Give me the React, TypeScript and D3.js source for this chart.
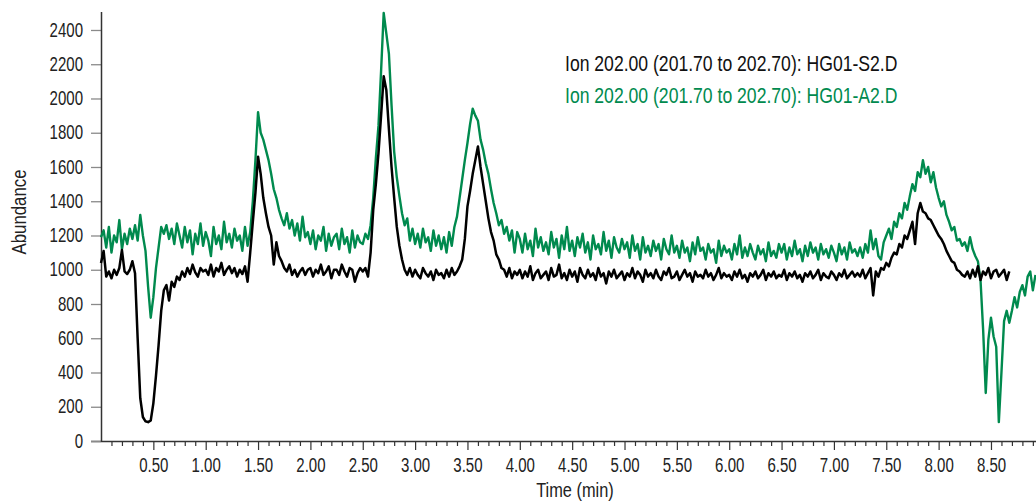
import React, { useRef, useEffect } from 'react';
import * as d3 from 'd3';

// sampling interval of both traces (min)
const STEP = 0.025;

// Ion 202.00 (201.70 to 202.70): HG01-S2.D, one value every STEP from 0 min
const blackValues = [
  1040, 1110, 960, 990, 950, 1000, 970, 1010, 1115, 990,
  975, 1000, 1050, 980, 600, 250, 140, 115, 110, 120,
  220, 380, 560, 760, 880, 910, 820, 930, 900, 960,
  940, 990, 960, 1010, 975, 1030, 985, 960, 1010, 990,
  1000, 970, 1030, 960, 1010, 990, 1040, 970, 1000, 1020,
  980, 1010, 960, 1000, 975, 1020, 930, 1100, 1280, 1450,
  1660, 1560, 1420, 1330, 1250, 1200, 1030, 1160, 1080, 1050,
  1010, 990, 1030, 970, 1000, 960, 990, 1010, 970, 1000,
  1010, 960, 1000, 980, 1030, 970, 990, 1020, 950, 1000,
  1000, 970, 1030, 990, 960, 1010, 1000, 930, 980, 1010,
  990, 1010, 960, 1100, 1350, 1500, 1680, 1900, 2130, 2050,
  1820, 1600, 1420, 1250, 1140, 1060, 1000, 970, 1010, 960,
  1000, 970, 950, 1010, 980, 960, 990, 940, 1000, 970,
  980, 950, 1000, 960, 1010, 970, 990, 1020, 1060, 1180,
  1370, 1460, 1560, 1640, 1720, 1600, 1500, 1400, 1300, 1220,
  1170, 1090, 1060, 1010, 1000, 960, 1010, 950, 990, 970,
  1000, 950, 990, 960, 1020, 940, 980, 1000, 950, 970,
  990, 940, 1010, 960, 970, 1030, 950, 980, 940, 1000,
  960, 990, 930, 1010, 970, 950, 1000, 960, 980, 940,
  1010, 960, 980, 920, 990, 960, 1000, 950, 970, 990,
  940, 980, 960, 1010, 950, 990, 970, 930, 1000, 960,
  980, 950, 1000, 960, 940, 990, 970, 1010, 950, 960,
  990, 940, 970, 1000, 960, 980, 930, 990, 960, 970,
  950, 1000, 960, 980, 940, 970, 1010, 950, 980, 960,
  970, 940, 990, 960, 1000, 950, 970, 930, 980, 960,
  990, 950, 970, 1000, 940, 980, 960, 990, 950, 970,
  960, 1000, 940, 980, 960, 990, 950, 970, 930, 980,
  960, 990, 950, 970, 1000, 940, 980, 960, 950, 990,
  970, 940, 980, 960, 1000, 950, 970, 990, 960, 980,
  960, 1000, 950, 980, 1010, 850, 990, 960, 1010, 1000,
  1040, 1020, 1070, 1100, 1090, 1150, 1130, 1200, 1180, 1230,
  1280, 1150, 1330, 1390, 1340, 1330, 1300, 1290, 1260, 1230,
  1200, 1180, 1150, 1110, 1080, 1050, 1040, 1000, 990, 970,
  960, 990, 950, 1000, 960, 1020, 940, 990, 970, 1010,
  950, 990, 1000, 960, 980, 1000, 940, 990,
];

// Ion 202.00 (201.70 to 202.70): HG01-A2.D
const greenValues = [
  1190, 1230, 1130, 1250, 1100, 1200, 1160, 1290, 1120, 1210,
  1150, 1240, 1180, 1260, 1170, 1320, 1200, 1110, 900, 720,
  840, 1010, 1130, 1250, 1210, 1260, 1180, 1240, 1150, 1270,
  1200, 1130, 1250, 1160, 1230, 1090, 1210, 1150, 1270, 1140,
  1220, 1170, 1080, 1250, 1150, 1200, 1120, 1280, 1160, 1210,
  1130, 1240, 1170, 1200, 1110, 1250, 1140, 1220, 1400, 1640,
  1920, 1800, 1760, 1700, 1640, 1560, 1470, 1420, 1350, 1300,
  1260, 1330, 1240, 1290, 1200, 1270, 1170, 1310, 1190, 1220,
  1150, 1230, 1120, 1200, 1170, 1250, 1110, 1210, 1140, 1190,
  1210, 1120, 1240, 1150, 1190, 1100, 1230, 1130, 1200, 1160,
  1150, 1210, 1180, 1260, 1420, 1650, 1840, 2160, 2500, 2380,
  2260, 1960, 1690, 1540, 1430, 1330, 1260, 1300, 1170, 1240,
  1150, 1210, 1130, 1240, 1160, 1190, 1110, 1230, 1140, 1200,
  1120, 1190, 1100, 1220, 1140, 1250, 1310, 1420, 1530, 1640,
  1740, 1850, 1940, 1900, 1870, 1760, 1700, 1620, 1560, 1470,
  1390, 1330, 1260, 1290, 1210, 1250, 1170, 1230, 1100, 1220,
  1180, 1100, 1210, 1120, 1170, 1080, 1240, 1130, 1190, 1110,
  1160, 1090, 1220, 1130, 1180, 1070, 1200, 1120, 1250, 1110,
  1170, 1080, 1190, 1130, 1210, 1100, 1160, 1060, 1200, 1120,
  1150, 1090, 1220, 1110, 1170, 1070, 1190, 1130, 1100, 1180,
  1120, 1160, 1070, 1200, 1110, 1150, 1060, 1190, 1100, 1140,
  1080, 1170, 1110, 1150, 1060, 1180, 1120, 1090, 1200, 1100,
  1140, 1070, 1170, 1100, 1130, 1050, 1160, 1090, 1190, 1110,
  1130, 1060, 1150, 1100, 1120, 1040, 1170, 1080, 1140, 1100,
  1120, 1060, 1150, 1090, 1200, 1070, 1130, 1080, 1150, 1100,
  1060, 1140, 1090, 1120, 1050, 1160, 1080, 1110, 1070, 1150,
  1100, 1150, 1060, 1130, 1080, 1170, 1090, 1120, 1050, 1140,
  1080, 1160, 1100, 1130, 1060, 1150, 1090, 1120, 1070, 1140,
  1100, 1050, 1150, 1090, 1130, 1060, 1160, 1100, 1120, 1080,
  1130, 1070, 1150, 1100, 1230, 1120, 1180, 1080, 1060, 1160,
  1200, 1240, 1180, 1280, 1250, 1330, 1300, 1390, 1350, 1430,
  1500, 1460, 1570, 1540, 1640, 1560, 1600, 1510, 1570, 1480,
  1420, 1370, 1400, 1320, 1280, 1230, 1250, 1170, 1180, 1140,
  1160, 1110, 1190, 1120, 1080, 1050, 940, 650, 280, 590,
  720, 610, 550, 110, 400, 700, 760, 690, 760, 840,
  780, 870, 910, 850, 960, 990, 880, 970,
];

const yTicks = [0, 200, 400, 600, 800, 1000, 1200, 1400, 1600, 1800, 2000, 2200, 2400];
const xMajorTicks = [0.5, 1, 1.5, 2, 2.5, 3, 3.5, 4, 4.5, 5, 5.5, 6, 6.5, 7, 7.5, 8, 8.5];
const legendLabels = [
  'Ion 202.00 (201.70 to 202.70): HG01-S2.D',
  'Ion 202.00 (201.70 to 202.70): HG01-A2.D',
];

const BLACK = '#000000';
const GREEN = '#008a4e';
const FONT = "'Liberation Sans', Arial, sans-serif";

const toPoints = (values: number[]) => values.map((v, i) => ({ t: i * STEP, v }));

// squeeze text horizontally to mimic the condensed face of the original
const condense = (sel: any, s: number) =>
  sel.each(function (this: SVGTextElement) {
    const t = d3.select(this);
    const x = +t.attr('x') || 0;
    const prev = t.attr('transform') || '';
    t.attr('x', x / s).attr('transform', `${prev} scale(${s},1)`);
  });

const App = () => {
  const ref = useRef<SVGSVGElement>(null);
  const width = 1036;
  const height = 502;

  useEffect(() => {
    if (!ref.current) return;
    const svg = d3.select(ref.current);
    svg.selectAll('*').remove();

    const x = d3.scaleLinear().domain([0, 8.93]).range([101, 1036]);
    const y = d3.scaleLinear().domain([0, 2505]).range([441, 12]);

    // x axis: minor ticks every 0.1 min, labelled majors every 0.5
    const minor = d3.range(1, 90).map(i => i / 10).filter(t => Math.round(t * 10) % 5 !== 0);
    svg
      .append('g')
      .attr('class', 'axis')
      .attr('transform', 'translate(0,441)')
      .call(d3.axisBottom(x).tickValues(minor).tickSize(5).tickSizeOuter(0).tickFormat(() => ''));
    svg
      .append('g')
      .attr('class', 'axis')
      .attr('transform', 'translate(0,441)')
      .call(d3.axisBottom(x).tickValues(xMajorTicks).tickSize(9).tickPadding(8).tickSizeOuter(0).tickFormat(d3.format('.2f')));
    svg.selectAll('.axis .domain').remove();
    svg
      .append('line')
      .attr('x1', 91)
      .attr('x2', 1036)
      .attr('y1', 441.5)
      .attr('y2', 441.5)
      .attr('stroke', '#333')
      .attr('stroke-width', 1.3);

    const yAxis = svg
      .append('g')
      .attr('class', 'axis yaxis')
      .attr('transform', 'translate(101,0)')
      .call(d3.axisLeft(y).tickValues(yTicks).tickSize(10).tickPadding(8).tickSizeOuter(0).tickFormat(d3.format('d')));
    yAxis.select('.domain').remove();
    yAxis.selectAll('line').attr('stroke', '#8a8a8a').attr('stroke-width', 1.3);
    svg
      .append('line')
      .attr('x1', 101.5)
      .attr('x2', 101.5)
      .attr('y1', 12)
      .attr('y2', 442)
      .attr('stroke', '#333')
      .attr('stroke-width', 1.5);

    svg
      .selectAll('.axis text')
      .attr('fill', '#222')
      .style('font-family', FONT)
      .style('font-size', '19.5px');
    condense(svg.selectAll('.axis text'), 0.77);
    svg.selectAll('.axis line').filter(function () {
      return !(this as Element).closest('.yaxis');
    }).attr('stroke', '#333').attr('stroke-width', 1.2);

    const line = d3
      .line<{ t: number; v: number }>()
      .x(d => x(d.t))
      .y(d => y(d.v));

    svg
      .append('path')
      .attr('d', line(toPoints(greenValues)))
      .attr('fill', 'none')
      .attr('stroke', GREEN)
      .attr('stroke-width', 2.4)
      .attr('stroke-linejoin', 'round');
    svg
      .append('path')
      .attr('d', line(toPoints(blackValues)))
      .attr('fill', 'none')
      .attr('stroke', BLACK)
      .attr('stroke-width', 2.5)
      .attr('stroke-linejoin', 'round');

    // legend
    const legend = svg
      .selectAll('text.legend')
      .data(legendLabels)
      .enter()
      .append('text')
      .attr('class', 'legend')
      .attr('x', 565)
      .attr('y', (d, i) => 71 + i * 32)
      .attr('fill', (d, i) => (i === 0 ? '#111' : GREEN))
      .style('font-family', FONT)
      .style('font-size', '22px')
      .text(d => d);
    condense(legend, 0.8);

    const yTitle = svg
      .append('text')
      .attr('transform', 'translate(26,212) rotate(-90)')
      .attr('text-anchor', 'middle')
      .attr('fill', '#222')
      .style('font-family', FONT)
      .style('font-size', '20px')
      .text('Abundance');
    condense(yTitle, 0.84);
    const xTitle = svg
      .append('text')
      .attr('x', 575)
      .attr('y', 497)
      .attr('text-anchor', 'middle')
      .attr('fill', '#222')
      .style('font-family', FONT)
      .style('font-size', '19.5px')
      .text('Time (min)');
    condense(xTitle, 0.84);
  }, []);

  return (
    <svg
      ref={ref}
      width={width}
      height={height}
      style={{ position: 'absolute', left: 0, top: 0, background: '#fff' }}
    />
  );
};

export default App;
